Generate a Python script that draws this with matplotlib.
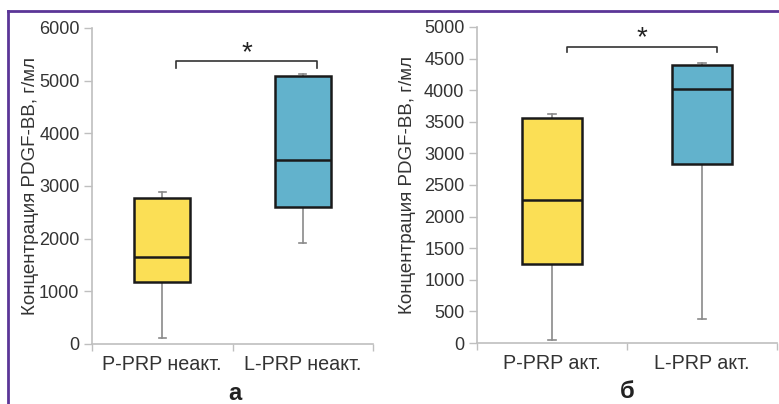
import matplotlib
matplotlib.use("Agg")
import matplotlib.pyplot as plt
from matplotlib.lines import Line2D

plt.rcParams['font.family'] = ['Liberation Sans', 'DejaVu Sans']

# PDGF-BB concentration, pg/ml: whisker low, Q1, median, Q3, whisker high
labels_a = ['P-PRP неакт.', 'L-PRP неакт.']
low_a = [110, 1920]
q1_a = [1170, 2600]
med_a = [1650, 3495]
q3_a = [2775, 5080]
high_a = [2880, 5120]

labels_b = ['P-PRP акт.', 'L-PRP акт.']
low_b = [55, 380]
q1_b = [1250, 2825]
med_b = [2265, 4025]
q3_b = [3555, 4395]
high_b = [3630, 4430]

colors = ['#FBDF55', '#62B2CC']
ylabel = 'Концентрация PDGF-BB, г/мл'
axis_col = '#BFBFBF'
text_col = '#333333'


def draw_panel(ax, labels, low, q1, med, q3, high, ymax, step,
               brk_y, brk_h, star_y, ypad):
    stats = []
    for i in range(len(labels)):
        stats.append(dict(whislo=low[i], q1=q1[i], med=med[i], q3=q3[i],
                          whishi=high[i], label=labels[i]))
    bp = ax.bxp(stats, positions=range(len(labels)), widths=0.4,
                showfliers=False, patch_artist=True, capwidths=0.05,
                boxprops=dict(edgecolor='#1a1a1a', linewidth=1.8),
                medianprops=dict(color='#1a1a1a', linewidth=1.8),
                whiskerprops=dict(color='#8a8a8a', linewidth=1.2),
                capprops=dict(color='#8a8a8a', linewidth=1.2))
    for patch, c in zip(bp['boxes'], colors):
        patch.set_facecolor(c)
        patch.set_zorder(3)
    for m in bp['medians']:
        m.set_zorder(4)

    ax.set_xlim(-0.5, len(labels) - 0.5)
    ax.set_ylim(0, ymax)
    ax.set_yticks(range(0, ymax + 1, step))
    ax.set_xticks([-0.5, 0.5, 1.5])
    ax.set_xticklabels([])
    ax.set_xticks(range(len(labels)), labels, minor=True)
    ax.tick_params(axis='x', which='major', length=5, color=axis_col, width=1)
    ax.tick_params(axis='x', which='minor', length=0, pad=8,
                   labelsize=14.2, labelcolor=text_col)
    ax.tick_params(axis='y', length=6, color=axis_col, width=1,
                   labelsize=13, labelcolor=text_col, pad=3)
    for s in ['top', 'right']:
        ax.spines[s].set_visible(False)
    for s in ['left', 'bottom']:
        ax.spines[s].set_color(axis_col)
        ax.spines[s].set_linewidth(1.2)
    ax.set_ylabel(ylabel, fontsize=13.5, color=text_col, labelpad=ypad)

    # significance bracket between the two groups
    ax.plot([0.1, 0.1, 1.1, 1.1], [brk_y - brk_h, brk_y, brk_y, brk_y - brk_h],
            color='#333333', linewidth=1.2, clip_on=False)
    ax.text(0.6, star_y, '*', ha='center', va='center',
            fontsize=20, color='#222222')


fig = plt.figure(figsize=(7.79, 4.04), dpi=100)

ax1 = fig.add_axes([92 / 779, 1 - 344 / 404, 281 / 779, 316 / 404])
draw_panel(ax1, labels_a, low_a, q1_a, med_a, q3_a, high_a, 6000, 1000,
           5380, 130, 5520, 0)

ax2 = fig.add_axes([477 / 779, 1 - 343 / 404, 300 / 779, 316 / 404])
draw_panel(ax2, labels_b, low_b, q1_b, med_b, q3_b, high_b, 5000, 500,
           4690, 90, 4830, 6)

fig.text(235 / 779, 1 - 393 / 404, 'а', ha='center', va='center',
         fontsize=17, fontweight='bold', color='#222222')
fig.text(627 / 779, 1 - 391 / 404, 'б', ha='center', va='center',
         fontsize=17, fontweight='bold', color='#222222')

# purple frame around the figure
frame_col = '#5B3597'
fig.add_artist(Line2D([8 / 779, 1.0], [1 - 11 / 404, 1 - 11 / 404],
                      color=frame_col, linewidth=2, transform=fig.transFigure))
fig.add_artist(Line2D([8 / 779, 8 / 779], [0.0, 1 - 11 / 404],
                      color=frame_col, linewidth=2, transform=fig.transFigure))

fig.savefig('out.png', dpi=100)
